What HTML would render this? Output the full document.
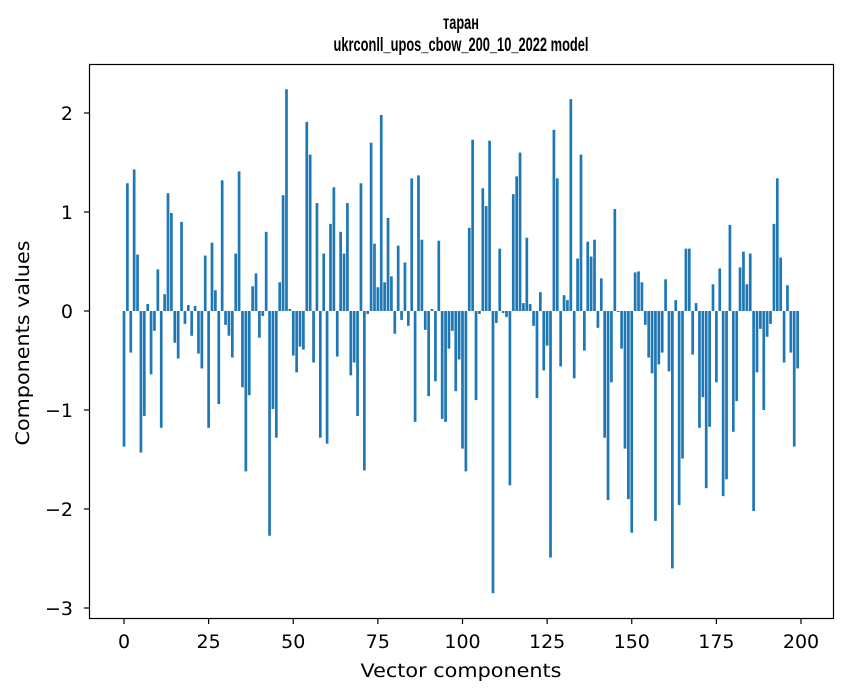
<!DOCTYPE html>
<html><head><meta charset="utf-8"><style>
html,body{margin:0;padding:0;background:#fff;}
svg{display:block;font-family:"DejaVu Sans","Liberation Sans",sans-serif;}
</style></head><body>
<svg id="chart" width="847" height="696" viewBox="0 0 847 696" xmlns="http://www.w3.org/2000/svg">
<rect x="0" y="0" width="847" height="696" fill="#fff"/>
<text x="461" y="29" text-anchor="middle" font-size="19" font-weight="bold" font-family="Liberation Sans, sans-serif" textLength="36" lengthAdjust="spacingAndGlyphs">таран</text>
<text x="461" y="51" text-anchor="middle" font-size="19" font-weight="bold" font-family="Liberation Sans, sans-serif" textLength="255" lengthAdjust="spacingAndGlyphs">ukrconll_upos_cbow_200_10_2022 model</text>
<g id="bars"></g>
<g id="xticks"></g>
<g id="yticks"></g>
<rect x="89.5" y="64.5" width="744" height="554" fill="none" stroke="#000" stroke-width="1.2"/>
<text x="461" y="677" text-anchor="middle" font-size="19" textLength="201" lengthAdjust="spacingAndGlyphs">Vector components</text>
<text x="0" y="0" transform="translate(29,343) rotate(-90)" text-anchor="middle" font-size="19" textLength="205" lengthAdjust="spacingAndGlyphs">Components values</text>
</svg>
<script>
const values = [
-1.37,1.29,-0.42,1.43,0.57,-1.43,-1.06,0.07,-0.64,-0.20,
0.42,-1.18,0.17,1.19,0.99,-0.32,-0.48,0.90,-0.13,0.06,
-0.25,0.05,-0.43,-0.58,0.56,-1.18,0.69,0.21,-0.94,1.32,
-0.14,-0.25,-0.47,0.58,1.41,-0.77,-1.62,-0.85,0.25,0.38,
-0.27,-0.05,0.80,-2.27,-0.99,-1.28,0.29,1.17,2.24,0.02,
-0.45,-0.62,-0.36,-0.39,1.91,1.58,-0.52,1.09,-1.28,0.58,
-1.34,0.88,1.25,-0.46,0.80,0.58,1.09,-0.65,-0.52,-1.06,
1.29,-1.61,-0.03,1.70,0.68,0.24,1.98,0.29,0.94,0.35,
-0.23,0.66,-0.09,0.49,-0.15,1.34,-1.12,1.37,0.72,-0.19,
-0.86,0.02,-0.71,0.71,-1.09,-1.12,-0.38,-0.20,-0.81,-0.49,
-1.39,-1.62,0.84,1.73,-0.90,-0.03,1.24,1.06,1.72,-2.85,
-0.12,0.63,-0.02,-0.06,-1.76,1.18,1.36,1.60,0.08,0.74,
0.07,-0.15,-0.88,0.19,-0.60,-0.35,-2.49,1.83,1.34,-0.56,
0.16,0.11,2.14,-0.68,0.53,1.58,-0.40,0.70,0.55,0.72,
-0.17,0.33,-1.28,-1.91,-0.72,1.03,-0.01,-0.38,-1.39,-1.90,
-2.24,0.39,0.40,0.29,-0.14,-0.47,-0.63,-2.12,-0.54,-0.42,
0.32,-0.61,-2.60,0.11,-1.96,-1.49,0.63,0.63,-0.44,0.08,
-1.18,-0.87,-1.79,-1.17,0.27,-0.72,0.43,-1.87,-1.70,0.87,
-1.22,-0.91,0.44,0.60,0.27,0.58,-2.02,-0.62,-0.18,-1.00,
-0.26,-0.13,0.88,1.34,0.54,-0.52,0.26,-0.42,-1.37,-0.58
];
const xTicks = [0,25,50,75,100,125,150,175,200];
const yTicks = [-3,-2,-1,0,1,2];
const yTickLabels = ["\u22123","\u22122","\u22121","0","1","2"];

const NS = "http://www.w3.org/2000/svg";
function xScale(v){ return 124 + v * (677/200); }
function yScale(v){ return 311 - v * 99; }

const barsG = document.getElementById('bars');
const bw = 0.8 * 677/200;
values.forEach((v,i)=>{
  const r = document.createElementNS(NS,'rect');
  const y0 = yScale(0), y1 = yScale(v);
  r.setAttribute('x', xScale(i) - bw/2);
  r.setAttribute('y', Math.min(y0,y1));
  r.setAttribute('width', bw);
  r.setAttribute('height', Math.max(Math.abs(y1-y0),0.3));
  r.setAttribute('fill', '#1f77b4');
  
  
  barsG.appendChild(r);
});

const xg = document.getElementById('xticks');
xTicks.forEach(t=>{
  const x = xScale(t);
  const l = document.createElementNS(NS,'line');
  l.setAttribute('x1',x); l.setAttribute('x2',x);
  l.setAttribute('y1',619); l.setAttribute('y2',624);
  l.setAttribute('stroke','#000');
  l.setAttribute('stroke-width','1.2');
  
  
  xg.appendChild(l);
  const tx = document.createElementNS(NS,'text');
  tx.setAttribute('x',x); tx.setAttribute('y',648);
  tx.setAttribute('text-anchor','middle');
  tx.setAttribute('font-size','19');
  tx.textContent = String(t);
  
  
  xg.appendChild(tx);
});

const yg = document.getElementById('yticks');
yTicks.forEach((t,i)=>{
  const y = yScale(t);
  const l = document.createElementNS(NS,'line');
  l.setAttribute('x1',84); l.setAttribute('x2',89);
  l.setAttribute('y1',y); l.setAttribute('y2',y);
  l.setAttribute('stroke','#000');
  l.setAttribute('stroke-width','1.2');
  
  
  yg.appendChild(l);
  const tx = document.createElementNS(NS,'text');
  tx.setAttribute('x',73); tx.setAttribute('y',y+7);
  tx.setAttribute('text-anchor','end');
  tx.setAttribute('font-size','19');
  tx.textContent = yTickLabels[i];
  
  
  yg.appendChild(tx);
});
</script>
</body></html>
